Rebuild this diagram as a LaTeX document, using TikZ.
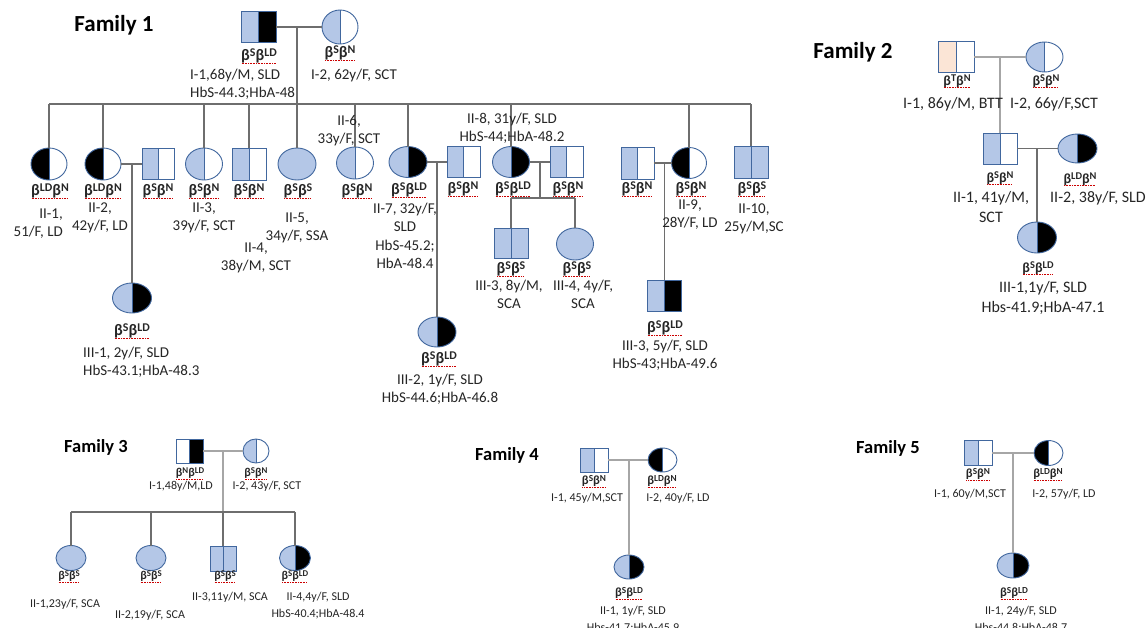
\documentclass[tikz,border=0pt]{standalone}
\usepackage{fontspec}
\usepackage{graphicx}
\setmainfont{Carlito}
\usetikzlibrary{shapes.geometric}
\definecolor{lb}{HTML}{B4C7E7}
\definecolor{peach}{HTML}{FBE5D6}
\definecolor{symblue}{HTML}{41679E}
\definecolor{lg}{HTML}{6E6E6E}
\definecolor{lg2}{HTML}{A6A6A6}
\definecolor{txt}{HTML}{262626}
\newsavebox\gtpbox
\newcommand\spsx[1]{\raisebox{0.27em}{\scalebox{0.74}{#1}}}
\newcommand\gtp[2]{\sbox\gtpbox{\bfseries β\spsx{#1}β\spsx{#2}}\rlap{\usebox\gtpbox}\raisebox{-2.6pt}{\textcolor{red!80!black}{\leaders\hbox to 1.6pt{\hss\rule{0.8pt}{0.5pt}\hss}\hskip\wd\gtpbox}}}
\begin{document}
\begin{tikzpicture}[x=1pt,y=-1pt,
 conn/.style={draw=lg, line width=1.1pt},
 conn2/.style={draw=lg2, line width=1.1pt},
 sym/.style={draw=symblue, line width=0.9pt, inner sep=0pt, outer sep=0pt},
 sq/.style 2 args={sym, rectangle, minimum width=#1, minimum height=#2},
 ci/.style 2 args={sym, ellipse, minimum width=#1, minimum height=#2},
 halves/.style 2 args={path picture={
   \fill[#1] (path picture bounding box.south west) rectangle (path picture bounding box.north);
   \fill[#2] (path picture bounding box.south) rectangle (path picture bounding box.north east);
   \draw[symblue, line width=0.9pt] (path picture bounding box.south) -- (path picture bounding box.north);}},
 fs/.style 2 args={inner sep=0pt, anchor=north, align=center, text=txt, font=\fontsize{#1}{#2}\selectfont, execute at begin node={\fontsize{#1}{#2}\selectfont\strut}, yshift={0.7*#2-0.35*#1}},
 lab/.style={fs={15}{18.5}},
 labL/.style={lab, anchor=north west, align=left},
 labR/.style={lab, anchor=north east, align=right},
 gl/.style={fs={16}{18}},
 lab2/.style={fs={16}{19.5}},
 gl2/.style={fs={14}{17}},
 slab/.style={fs={12}{17}},
 gl3/.style={fs={12}{13}},
 gl4/.style={fs={12.5}{15}},
 title/.style={inner sep=0pt, text=black, font=\fontsize{23}{27}\selectfont\bfseries},
 stitle/.style={inner sep=0pt, text=black, font=\fontsize{18.5}{22}\selectfont\bfseries},
]
\useasboundingbox (0,0) rectangle (1146,627);
\fill[white] (0,0) rectangle (1146,627);

% ================= Family 1 =================
\node[title] (t1) at (114,25) {Family 1};
\node[sq={35}{31}, halves={lb}{black}] (f1i1) at (258.5,27) {};
\node[ci={36}{34}, halves={lb}{white}] (f1i2) at (340,27) {};
\node[gl] (g1i1) at (259,55) {\gtp{S}{LD}};
\node[labL] (l1i1) at (190,74) {\strut I-1,68y/M, SLD\\HbS-44.3;HbA-48};
\node[gl] (g1i2) at (340,52) {\gtp{S}{N}};
\node[lab] (l1i2) at (354,74) {I-2, 62y/F, SCT};

\node[ci={36}{32}, halves={black}{white}] (f1ii1) at (49,164) {};
\node[ci={36}{32}, halves={black}{white}] (f1ii2) at (103,164) {};
\node[sq={32}{31}, halves={lb}{white}] (f1s2) at (158,164) {};
\node[ci={37}{32}, halves={lb}{white}] (f1ii3) at (204,164) {};
\node[sq={34}{32}, halves={lb}{white}] (f1ii4) at (249,164) {};
\node[ci={38}{32}, fill=lb] (f1ii5) at (297,164) {};
\node[ci={37}{32}, halves={lb}{white}] (f1ii6) at (355,163) {};
\node[ci={38}{31}, halves={lb}{black}] (f1ii7) at (408,162) {};
\node[sq={33}{31}, halves={lb}{white}] (f1s7) at (463.5,162) {};
\node[ci={37}{31}, halves={lb}{black}] (f1ii8) at (511,162) {};
\node[sq={33}{31}, halves={lb}{white}] (f1s8) at (566.5,162) {};
\node[sq={33}{32}, halves={lb}{white}] (f1s9) at (637.5,163) {};
\node[ci={35}{31}, halves={black}{white}] (f1ii9) at (689,163) {};
\node[sq={34}{32}, halves={lb}{lb}] (f1ii10) at (751,162) {};

\node[ci={39}{30}, halves={lb}{black}] (f1iii1) at (132,298) {};
\node[ci={38}{30}, halves={lb}{black}] (f1iii2) at (437,332) {};
\node[sq={34}{30}, halves={lb}{lb}] (f1iii3) at (511,243) {};
\node[ci={37}{32}, fill=lb] (f1iii4) at (575,244) {};
\node[sq={34}{31}, halves={lb}{black}] (f1iii5) at (664.5,295.5) {};

\draw[conn] (f1i1) -- (f1i2);
\coordinate (f1c) at (297,27);
\coordinate (f1sl) at (49,104);
\coordinate (f1sr) at (751,104);
\draw[conn] (f1sl) -- (f1sr);
\draw[conn] (f1c) -- (f1c |- f1sl);
\foreach \n in {f1ii1,f1ii2,f1ii3,f1ii4,f1ii5,f1ii6,f1ii7,f1ii8,f1ii9,f1ii10}
  \draw[conn] (\n.north |- f1sl) -- (\n.north);
\draw[conn] (f1ii2) -- (f1s2);
\coordinate (f1c2) at (132,164);
\draw[conn] (f1c2) -- (f1iii1.north);
\draw[conn] (f1ii7) -- (f1s7);
\coordinate (f1c7) at (437,162);
\draw[conn] (f1c7) -- (f1iii2.north);
\draw[conn] (f1ii8) -- (f1s8);
\coordinate (f1c8) at (540,162);
\coordinate (f1s8l) at (511,198);
\coordinate (f1s8r) at (575,198);
\draw[conn] (f1c8) -- (f1c8 |- f1s8l);
\draw[conn] (f1s8l) -- (f1s8r);
\draw[conn] (f1s8l) -- (f1iii3.north);
\draw[conn] (f1s8r) -- (f1iii4.north);
\draw[conn] (f1s9) -- (f1ii9);
\coordinate (f1c9) at (664.5,163);
\draw[conn] (f1c9) -- (f1iii5.north);

\node[gl] (g1ii1) at (50,190) {\gtp{LD}{N}};
\node[labR] (l1ii1) at (63,213) {\strut II-1,\\51/F, LD};
\node[gl] (g1ii2) at (103,190) {\gtp{LD}{N}};
\node[lab] (l1ii2) at (100,207) {\strut II-2,\\42y/F, LD};
\node[gl] (g1s2) at (158,190) {\gtp{S}{N}};
\node[gl] (g1ii3) at (204,190) {\gtp{S}{N}};
\node[lab] (l1ii3) at (204,207) {\strut II-3,\\39y/F, SCT};
\node[gl] (g1ii4) at (249,190) {\gtp{S}{N}};
\node[lab] (l1ii4) at (256,247) {\strut II-4,\\38y/M, SCT};
\node[gl] (g1ii5) at (298,190) {\gtp{S}{S}};
\node[lab] (l1ii5) at (297,217) {\strut II-5,\\34y/F, SSA};
\node[lab] (l1ii6) at (349,120) {\strut II-6,\\33y/F, SCT};
\node[gl] (g1ii6) at (357,190) {\gtp{S}{N}};
\node[gl] (g1ii7) at (409,189) {\gtp{S}{LD}};
\node[lab] (l1ii7) at (405,208) {\strut II-7, 32y/F,\\SLD\\HbS-45.2;\\HbA-48.4};
\node[gl] (g1s7) at (463,188) {\gtp{S}{N}};
\node[lab] (l1ii8) at (512,118) {\strut II-8, 31y/F, SLD\\HbS-44;HbA-48.2};
\node[gl] (g1ii8) at (513,188) {\gtp{S}{LD}};
\node[gl] (g1s8) at (568,188) {\gtp{S}{N}};
\node[gl] (g1iii3) at (511,268) {\gtp{S}{S}};
\node[lab] (l1iii3) at (509,285) {\strut III-3, 8y/M,\\SCA};
\node[gl] (g1iii4) at (577,268) {\gtp{S}{S}};
\node[lab] (l1iii4) at (583,285) {\strut III-4, 4y/F,\\SCA};
\node[gl] (g1s9) at (637,188) {\gtp{S}{N}};
\node[gl] (g1ii9) at (691,188) {\gtp{S}{N}};
\node[lab] (l1ii9) at (690,204) {\strut II-9,\\28Y/F, LD};
\node[gl] (g1ii10) at (752,188) {\gtp{S}{S}};
\node[lab] (l1ii10) at (754,208) {\strut II-10,\\25y/M,SC};
\node[gl] (g1iii1) at (132,330) {\gtp{S}{LD}};
\node[labL] (l1iii1) at (83,352) {\strut III-1, 2y/F, SLD\\HbS-43.1;HbA-48.3};
\node[gl] (g1iii2) at (439,358) {\gtp{S}{LD}};
\node[lab] (l1iii2) at (440,379) {\strut III-2, 1y/F, SLD\\HbS-44.6;HbA-46.8};
\node[gl] (g1iii5) at (665,327) {\gtp{S}{LD}};
\node[lab] (l1iii5) at (665,345) {\strut III-3, 5y/F, SLD\\HbS-43;HbA-49.6};

% ================= Family 2 =================
\node[title] (t2) at (853,52) {Family 2};
\node[sq={36}{31}, halves={peach}{white}] (f2i1) at (956,57) {};
\node[ci={37}{30}, halves={lb}{white}] (f2i2) at (1044.5,57) {};
\node[sq={34}{31}, halves={lb}{white}] (f2ii1) at (1000,148.5) {};
\node[ci={39}{29}, halves={lb}{black}] (f2ii2) at (1077.5,148.5) {};
\node[ci={39}{31}, halves={lb}{black}] (f2iii1) at (1037,237.5) {};
\draw[conn2] (f2i1) -- (f2i2);
\coordinate (f2c) at (1000,57);
\draw[conn2] (f2c) -- (f2ii1.north);
\draw[conn] (f2ii1) -- (f2ii2);
\coordinate (f2c2) at (1037,148.5);
\draw[conn] (f2c2) -- (f2iii1.north);
\node[gl2] (g2i1) at (957,80) {\gtp{T}{N}};
\node[lab2] (l2i1) at (953,103) {I-1, 86y/M, BTT};
\node[gl2] (g2i2) at (1046,80) {\gtp{S}{N}};
\node[lab2] (l2i2) at (1054,103) {I-2, 66y/F,SCT};
\node[gl2] (g2ii1) at (1000,177) {\gtp{S}{N}};
\node[lab2] (l2ii1) at (991,197) {\strut II-1, 41y/M,\\SCT};
\node[gl2] (g2ii2) at (1080,178) {\gtp{LD}{N}};
\node[lab2] (l2ii2) at (1098,197) {II-2, 38y/F, SLD};
\node[gl2] (g2iii1) at (1038,267) {\gtp{S}{LD}};
\node[lab2] (l2iii1) at (1043,287) {\strut III-1,1y/F, SLD\\Hbs-41.9;HbA-47.1};

% ================= Family 3 =================
\node[stitle] (t3) at (96,447) {Family 3};
\node[sq={27}{24}, halves={white}{black}] (f3i1) at (189.5,451) {};
\node[ci={26}{24}, halves={lb}{white}] (f3i2) at (256,451) {};
\node[ci={30}{25}, fill=lb] (f3ii1) at (71,558) {};
\node[ci={30}{25}, fill=lb] (f3ii2) at (151,558) {};
\node[sq={26}{25}, halves={lb}{lb}] (f3ii3) at (223,558.5) {};
\node[ci={31}{25}, halves={lb}{black}] (f3ii4) at (295,558) {};
\draw[conn2] (f3i1) -- (f3i2);
\coordinate (f3c) at (223,451);
\coordinate (f3sl) at (71,512);
\coordinate (f3sr) at (295,512);
\draw[conn2] (f3c) -- (f3c |- f3sl);
\draw[conn] (f3sl) -- (f3sr);
\foreach \n in {f3ii1,f3ii2,f3ii3,f3ii4}
  \draw[conn] (\n.north |- f3sl) -- (\n.north);
\node[gl3] (g3i1) at (190,472) {\gtp{N}{LD}};
\node[slab] (l3i1) at (181,485) {I-1,48y/M,LD};
\node[gl3] (g3i2) at (256,472) {\gtp{S}{N}};
\node[slab] (l3i2) at (267,485) {I-2, 43y/F, SCT};
\node[gl3] (g3ii1) at (69,575) {\gtp{S}{S}};
\node[slab] (l3ii1) at (65,603) {II-1,23y/F, SCA};
\node[gl3] (g3ii2) at (151,575) {\gtp{S}{S}};
\node[slab] (l3ii2) at (150,614) {II-2,19y/F, SCA};
\node[gl3] (g3ii3) at (225,575) {\gtp{S}{S}};
\node[slab] (l3ii3) at (230,596) {II-3,11y/M, SCA};
\node[gl3] (g3ii4) at (295,575) {\gtp{S}{LD}};
\node[slab] (l3ii4) at (318,596) {\strut II-4,4y/F, SLD\\HbS-40.4;HbA-48.4};

% ================= Family 4 =================
\node[stitle] (t4) at (507,455) {Family 4};
\node[sq={28}{24}, halves={lb}{white}] (f4i1) at (594,460) {};
\node[ci={29}{24}, halves={black}{white}] (f4i2) at (662.5,460) {};
\node[ci={30}{24}, halves={lb}{black}] (f4ii1) at (629,567) {};
\draw[conn2] (f4i1) -- (f4i2);
\coordinate (f4c) at (629,460);
\draw[conn2] (f4c) -- (f4ii1.north);
\node[gl4] (g4i1) at (594,480) {\gtp{S}{N}};
\node[slab] (l4i1) at (587,497) {I-1, 45y/M,SCT};
\node[gl4] (g4i2) at (662,480) {\gtp{LD}{N}};
\node[slab] (l4i2) at (678,497) {I-2, 40y/F, LD};
\node[gl4] (g4ii1) at (629,592) {\gtp{S}{LD}};
\node[slab] (l4ii1) at (633,610) {\strut II-1, 1y/F, SLD\\Hbs-41.7;HbA-45.9};

% ================= Family 5 =================
\node[stitle] (t5) at (888,448) {Family 5};
\node[sq={28}{25}, halves={lb}{white}] (f5i1) at (978,453) {};
\node[ci={29}{25}, halves={black}{white}] (f5i2) at (1048.5,453) {};
\node[ci={32}{25}, halves={lb}{black}] (f5ii1) at (1013,565.5) {};
\draw[conn2] (f5i1) -- (f5i2);
\coordinate (f5c) at (1013,453);
\draw[conn2] (f5c) -- (f5ii1.north);
\node[gl4] (g5i1) at (978,473) {\gtp{S}{N}};
\node[slab] (l5i1) at (970,493) {I-1, 60y/M,SCT};
\node[gl4] (g5i2) at (1048,473) {\gtp{LD}{N}};
\node[slab] (l5i2) at (1064,493) {I-2, 57y/F, LD};
\node[gl4] (g5ii1) at (1014,592) {\gtp{S}{LD}};
\node[slab] (l5ii1) at (1021,610) {\strut II-1, 24y/F, SLD\\Hbs-44.8;HbA-48.7};
\end{tikzpicture}
\end{document}
